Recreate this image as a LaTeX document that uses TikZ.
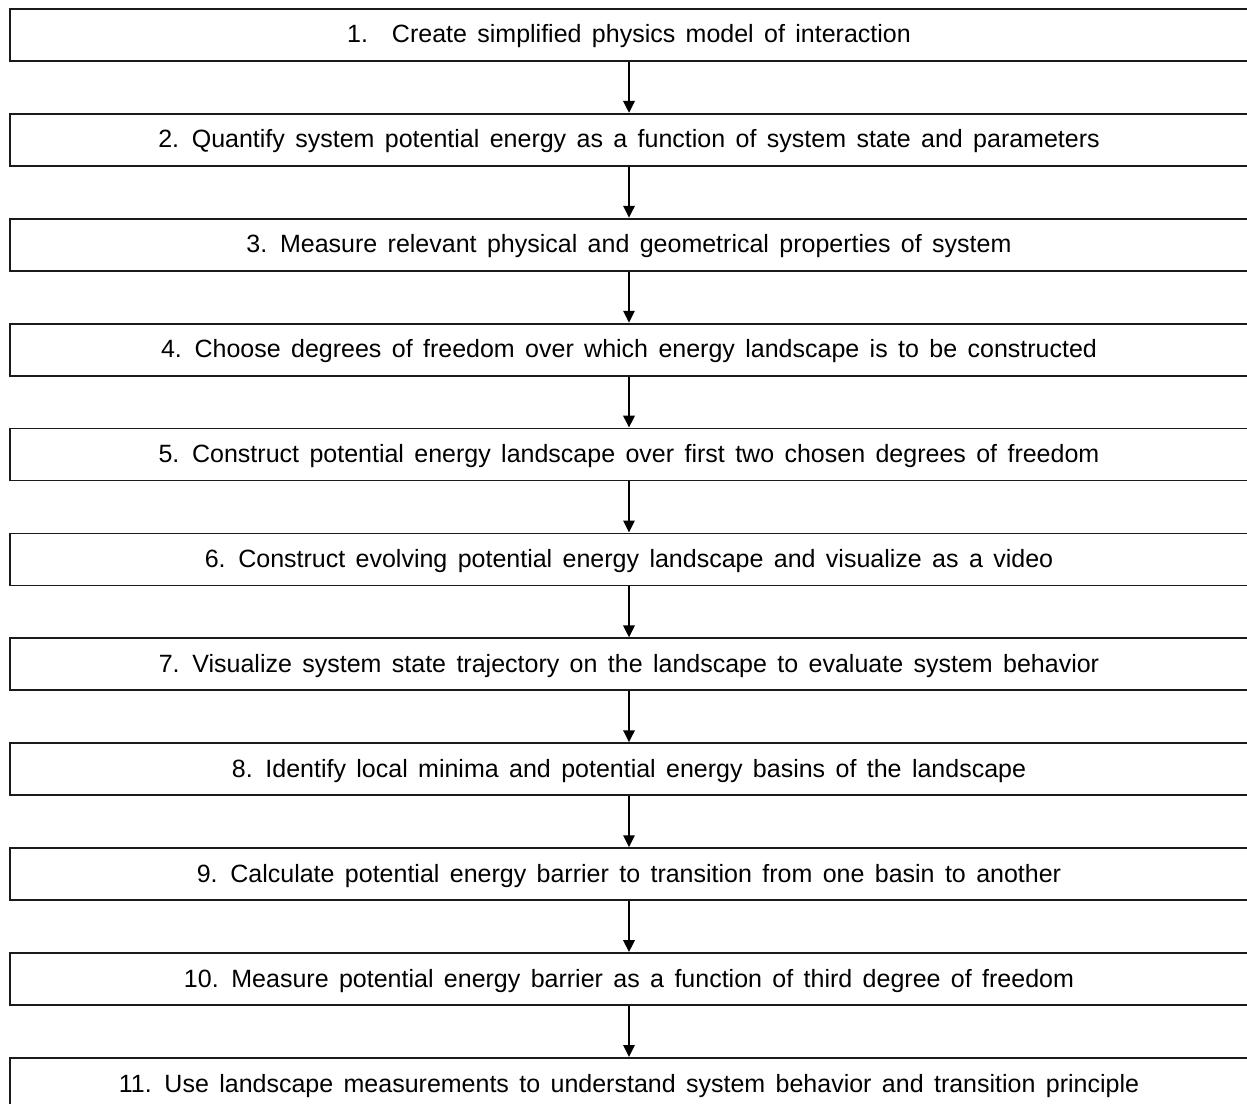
\documentclass[tikz,border=0pt]{standalone}
\usepackage{fontspec}
\setmainfont{Liberation Sans}
\usetikzlibrary{arrows.meta}
\definecolor{rahmen}{HTML}{1A1A1A}
\newcommand{\schrift}{\fontsize{12.5}{15}\selectfont\spaceskip=5.2pt plus 1pt}
\tikzset{schrittbox/.style={draw=rahmen,line width=0.9pt,fill=white,
    minimum width=619pt,minimum height=26pt,inner sep=0,
    text height=11pt,text depth=3pt,font=\schrift},
  folgepfeil/.style={line width=1.4pt,-{Triangle[length=6pt,width=5.5pt]}}}

\begin{document}
\begin{tikzpicture}[x=0.5pt,y=0.5pt]
\useasboundingbox (0,0) rectangle (1247,1103);
\node[schrittbox] (s1) at (629,1068.0) {1.\hspace{12pt}Create simplified physics model of interaction};
\node[schrittbox] (s2) at (629,963.1) {2. Quantify system potential energy as a function of system state and parameters};
\node[schrittbox] (s3) at (629,858.2) {3. Measure relevant physical and geometrical properties of system};
\node[schrittbox] (s4) at (629,753.3) {4. Choose degrees of freedom over which energy landscape is to be constructed};
\node[schrittbox] (s5) at (629,648.4) {5. Construct potential energy landscape over first two chosen degrees of freedom};
\node[schrittbox] (s6) at (629,543.5) {6. Construct evolving potential energy landscape and visualize as a video};
\node[schrittbox] (s7) at (629,438.6) {7. Visualize system state trajectory on the landscape to evaluate system behavior};
\node[schrittbox] (s8) at (629,333.7) {8. Identify local minima and potential energy basins of the landscape};
\node[schrittbox] (s9) at (629,228.8) {9. Calculate potential energy barrier to transition from one basin to another};
\node[schrittbox] (s10) at (629,123.9) {10. Measure potential energy barrier as a function of third degree of freedom};
\node[schrittbox] (s11) at (629,19.0) {11. Use landscape measurements to understand system behavior and transition principle};
\foreach \a/\b in {1/2,2/3,3/4,4/5,5/6,6/7,7/8,8/9,9/10,10/11}
  \draw[folgepfeil] (s\a.south) -- (s\b.north);
\end{tikzpicture}
\end{document}
